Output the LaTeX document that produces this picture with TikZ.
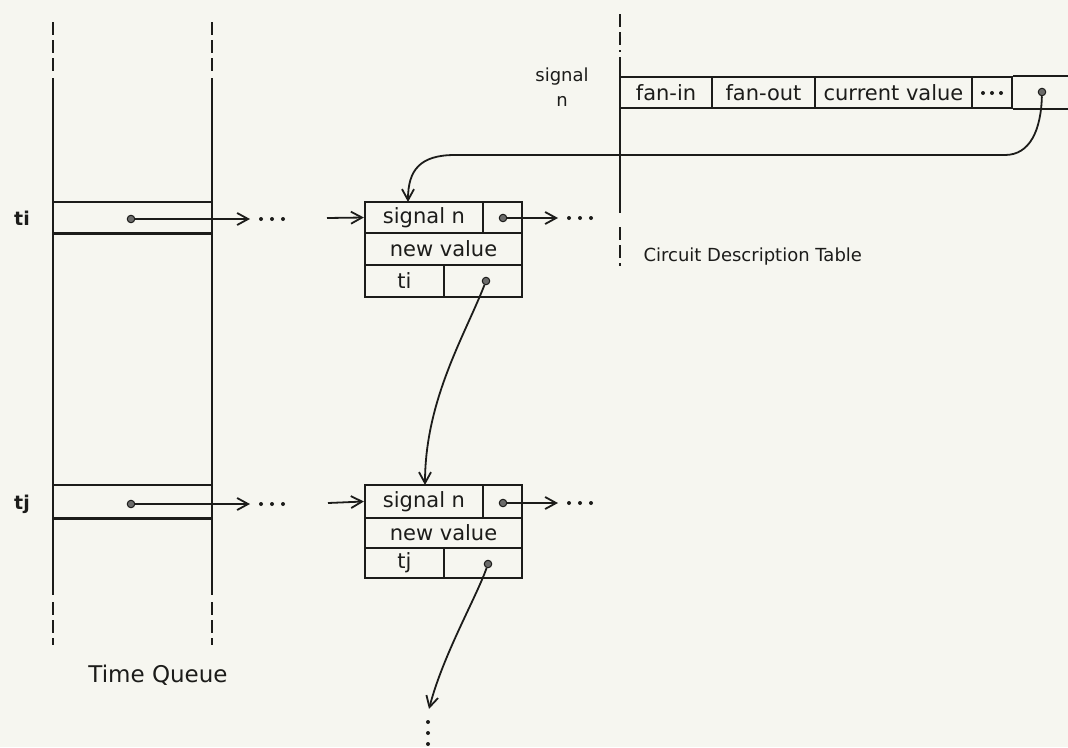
\documentclass[tikz,border=0pt]{standalone}
\usepackage{fontspec}
\setmainfont{DejaVu Sans}
\usetikzlibrary{arrows.meta}
\definecolor{paper}{RGB}{246,246,240}
\definecolor{ink}{RGB}{28,28,26}
\tikzset{
  ink/.style={draw=ink, line width=2.2pt},
  wall/.style={draw=ink, line width=2.6pt},
  wallgap/.style={draw=ink, line width=2.6pt, dash pattern=on 13pt off 5pt},
  cell/.style={draw=ink, line width=2.3pt, inner sep=0pt, font=\fontsize{21}{22}\selectfont, text=ink},
  slot/.style={inner sep=0pt, minimum width=159pt},
  ptr/.style={circle, draw=ink, fill=ink!65, line width=1pt, inner sep=0pt, minimum size=7.5pt},
  link/.style={draw=ink, line width=1.8pt, -{Straight Barb[length=11pt,width=12pt,line width=1.8pt]}},
  dotmark/.style={fill=ink},
  lbl/.style={font=\fontsize{18}{20}\selectfont, text=ink},
  biglbl/.style={font=\fontsize{23}{25}\selectfont, text=ink},
  blbl/.style={font=\bfseries\fontsize{19}{21}\selectfont, text=ink},
}
\begin{document}
\begin{tikzpicture}[x=1pt,y=-1pt]
\fill[paper] (0,0) rectangle (1068,747);
\useasboundingbox (0,0) rectangle (1068,747);

% ---------------- Time Queue ----------------
\draw[wall] (53,78) -- (53,595);
\draw[wall] (212,78) -- (212,595);
\draw[wallgap] (53,22) -- (53,73);
\draw[wallgap] (212,22) -- (212,73);
\draw[wallgap] (53,602) -- (53,645);
\draw[wallgap] (212,602) -- (212,645);

\node[slot, minimum height=31pt] (qi) at (132.5,217.5) {};
\node[slot, minimum height=33pt] (qj) at (132.5,501.5) {};
\draw[wall] (qi.north west) -- (qi.north east);
\draw[wall] (qi.south west) -- (qi.south east);
\draw[wall] (qj.north west) -- (qj.north east);
\draw[wall] (qj.south west) -- (qj.south east);

\node[blbl] (lti) at (22,218) {ti};
\node[blbl] (ltj) at (22,504) {tj};
\node[biglbl] (ltq) at (158,675) {Time Queue};

\node[ptr] (qip) at (131,219) {};
\node[ptr] (qjp) at (131,504) {};
\coordinate (qie) at (250,219);
\coordinate (qje) at (250,504);
\draw[link] (qip) -- (qie);
\draw[link] (qjp) -- (qje);
\foreach \x in {261,272,283} {
  \fill[dotmark] (\x,219) circle (2pt);
  \fill[dotmark] (\x,504) circle (2pt);
}

% ---------------- Record A ----------------
\node[cell, minimum width=118pt, minimum height=31pt] (sigA) at (424,217.5) {signal n};
\node[cell, minimum width=39pt, minimum height=31pt] (pA) at (502.5,217.5) {};
\node[cell, minimum width=157pt, minimum height=32pt] (nvA) at (443.5,249) {new value};
\node[cell, minimum width=79pt, minimum height=32pt] (tA) at (404.5,281) {ti};
\node[cell, minimum width=78pt, minimum height=32pt] (qA) at (483,281) {};
\node[ptr] (pAd) at (503,218) {};
\node[ptr] (qAd) at (486,281) {};

% ---------------- Record B ----------------
\node[cell, minimum width=118pt, minimum height=33pt] (sigB) at (424,501.5) {signal n};
\node[cell, minimum width=39pt, minimum height=33pt] (pB) at (502.5,501.5) {};
\node[cell, minimum width=157pt, minimum height=30pt] (nvB) at (443.5,533) {new value};
\node[cell, minimum width=79pt, minimum height=30pt] (tB) at (404.5,563) {tj};
\node[cell, minimum width=78pt, minimum height=30pt] (qB) at (483,563) {};
\node[ptr] (pBd) at (503,503) {};
\node[ptr] (qBd) at (488,564) {};

% incoming arrows from the left
\coordinate (inAl) at (327,218);
\coordinate (inBl) at (328,503);
\draw[link] (inAl) -- (sigA.west);
\draw[link] (inBl) -- (sigB.west);

% outgoing next pointers
\coordinate (outA) at (558,218);
\coordinate (outB) at (558,503);
\draw[link] (pAd) -- (outA);
\draw[link] (pBd) -- (outB);
\foreach \x in {569,580,591} {
  \fill[dotmark] (\x,218) circle (2pt);
  \fill[dotmark] (\x,503) circle (2pt);
}

% ---------------- Circuit Description Table ----------------
\draw[wall] (620,57) -- (620,213);
\draw[wallgap] (620,14) -- (620,52);
\draw[wallgap] (620,227) -- (620,266);

\node[cell, minimum width=92pt, minimum height=31pt] (fin) at (666,92.5) {fan-in};
\node[cell, minimum width=103pt, minimum height=31pt] (fout) at (763.5,92.5) {fan-out};
\node[cell, minimum width=157pt, minimum height=31pt] (cur) at (893.5,92.5) {current value};
\node[cell, minimum width=40pt, minimum height=31pt] (etc) at (992,92.5) {};
\foreach \x in {983,992,1001} { \fill[dotmark] (\x,93) circle (2pt); }
\draw[ink] (etc.north east) -- ++(60,0);
\draw[ink] (etc.south east) -- ++(60,0);
\node[ptr] (cdtp) at (1042,92) {};

\node[lbl] (lsig) at (562,77) {signal};
\node[lbl] (ln) at (562,101) {n};
\node[lbl, anchor=west] (lcdt) at (640,257) {Circuit Description Table};

% pointer from table to record A
\coordinate (inAt) at (408,202);
\draw[link] (cdtp) .. controls (1041,130) and (1030,155) .. (1005,155)
  -- (455,155) .. controls (420,155) and (408,170) .. (inAt);

% record A -> record B
\coordinate (inBt) at (425,485);
\draw[link] (qAd) .. controls (465,335) and (425,400) .. (inBt);

% record B -> onward
\coordinate (downB) at (429,709);
\draw[link] (qBd) .. controls (476,598) and (443,655) .. (downB);
\foreach \y in {722,733,744} { \fill[dotmark] (428,\y) circle (2pt); }
\end{tikzpicture}
\end{document}
